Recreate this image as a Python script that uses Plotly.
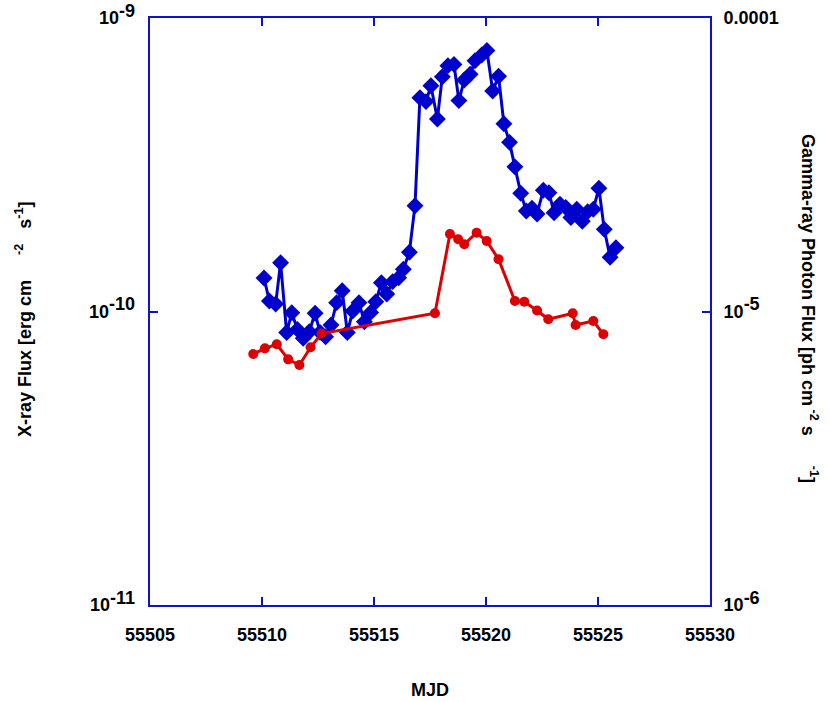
import plotly.graph_objects as go

# X-ray flux (erg cm^-2 s^-1), blue diamonds, left axis
xray_mjd = [55510.09, 55510.33, 55510.61, 55510.83, 55511.10, 55511.33, 55511.58, 55511.84,
            55512.11, 55512.37, 55512.59, 55512.84, 55513.08, 55513.33, 55513.58, 55513.81,
            55514.05, 55514.33, 55514.57, 55514.85, 55515.08, 55515.33, 55515.57, 55515.83,
            55516.10, 55516.31, 55516.58, 55516.83, 55517.05, 55517.32, 55517.54, 55517.83,
            55518.05, 55518.30, 55518.57, 55518.79, 55519.03, 55519.29, 55519.51, 55519.81,
            55520.04, 55520.30, 55520.56, 55520.80, 55521.05, 55521.29, 55521.55, 55521.80,
            55522.05, 55522.28, 55522.56, 55522.81, 55523.04, 55523.30, 55523.56, 55523.79,
            55524.05, 55524.30, 55524.54, 55524.79, 55525.04, 55525.28, 55525.54, 55525.80]
xray_flux = [1.30e-10, 1.086e-10, 1.06e-10, 1.466e-10, 8.48e-11, 9.9e-11, 8.69e-11, 8.1e-11,
             8.53e-11, 9.86e-11, 8.49e-11, 8.2e-11, 8.99e-11, 1.072e-10, 1.177e-10, 8.48e-11,
             1.004e-10, 1.072e-10, 9.23e-11, 9.93e-11, 1.08e-10, 1.253e-10, 1.147e-10, 1.264e-10,
             1.303e-10, 1.393e-10, 1.592e-10, 2.293e-10, 5.35e-10, 5.19e-10, 5.88e-10, 4.53e-10,
             6.31e-10, 6.88e-10, 6.95e-10, 5.23e-10, 6.15e-10, 6.43e-10, 7.15e-10, 7.48e-10,
             7.75e-10, 5.64e-10, 6.33e-10, 4.36e-10, 3.77e-10, 3.11e-10, 2.53e-10, 2.20e-10,
             2.25e-10, 2.15e-10, 2.59e-10, 2.54e-10, 2.17e-10, 2.32e-10, 2.26e-10, 2.09e-10,
             2.23e-10, 2.03e-10, 2.19e-10, 2.23e-10, 2.63e-10, 1.905e-10, 1.53e-10, 1.65e-10]

# Gamma-ray photon flux (ph cm^-2 s^-1), red circles, right axis
gamma_mjd = [55509.61, 55510.13, 55510.66, 55511.17, 55511.67, 55512.17, 55512.66, 55517.72,
             55518.39, 55518.76, 55519.03, 55519.58, 55520.03, 55520.56, 55521.29, 55521.71,
             55522.28, 55522.78, 55523.87, 55524.00, 55524.79, 55525.24]
gamma_flux = [7.16e-6, 7.49e-6, 7.73e-6, 6.87e-6, 6.57e-6, 7.55e-6, 8.41e-6, 9.86e-6,
              1.836e-5, 1.762e-5, 1.694e-5, 1.855e-5, 1.739e-5, 1.507e-5, 1.086e-5, 1.08e-5,
              1.008e-5, 9.41e-6, 9.86e-6, 9.0e-6, 9.28e-6, 8.36e-6]

x_ticks = [55505, 55510, 55515, 55520, 55525, 55530]
left_tickvals = [1e-11, 1e-10, 1e-9]
left_exps = ["-11", "-10", "-9"]
right_tickvals = [1e-6, 1e-5, 1e-4]
right_labels = ["10|-6", "10|-5", "0.0001"]


def pow_label(base, exp):
    return f"{base}<sup><span style='font-size:18px'>{exp}</span></sup>"


left_ticktext = [pow_label("10", e) for e in left_exps]
right_ticktext = [pow_label(*s.split("|")) if "|" in s else s for s in right_labels]

BLUE = "#0000CC"
RED = "#DD0000"
AX = "#1010D0"
FONT = "Liberation Sans, Arial, sans-serif"
tickfont = dict(family=FONT, size=18, color="#000000", weight="bold")
titlefont = dict(family=FONT, size=18, color="#000000", weight="bold")

W, H = 830, 702
ML, R, T, B = 100, 120, 18, 97      # paper margins
PLOT_LEFT = 150                      # pixel where the plot frame starts
paper_w = W - ML - R
ph = H - T - B
x_dom0 = (PLOT_LEFT - ML) / paper_w


def px_x(x):
    return (x - ML) / paper_w


def px_y(y):
    return (H - B - y) / ph


fig = go.Figure()
# transparent copy of the X-ray series so the label-only left axis (y3) is drawn
fig.add_trace(go.Scatter(x=xray_mjd, y=xray_flux, mode="lines", opacity=0,
                         line=dict(width=0), hoverinfo="skip",
                         yaxis="y3", showlegend=False))
fig.add_trace(go.Scatter(x=xray_mjd, y=xray_flux, mode="lines+markers",
                         line=dict(color=BLUE, width=3),
                         marker=dict(symbol="diamond", size=13, color=BLUE),
                         yaxis="y", showlegend=False))
fig.add_trace(go.Scatter(x=gamma_mjd, y=gamma_flux, mode="lines+markers",
                         line=dict(color=RED, width=3),
                         marker=dict(symbol="circle", size=10, color=RED),
                         yaxis="y2", showlegend=False))

common = dict(ticks="inside", ticklen=8, tickcolor=AX, tickwidth=1.5,
              showline=True, linecolor=AX, linewidth=2,
              showgrid=False, zeroline=False, tickfont=tickfont, automargin=False)

fig.update_layout(
    width=W, height=H,
    margin=dict(l=ML, r=R, t=T, b=B),
    paper_bgcolor="white", plot_bgcolor="white",
    xaxis=dict(range=[55505, 55530], domain=[x_dom0, 1], tickvals=x_ticks,
               ticktext=[str(v) for v in x_ticks],
               mirror="ticks", ticklabelstandoff=12, **common),
    yaxis=dict(type="log", range=[-11, -9], tickvals=left_tickvals,
               showticklabels=False, **common),
    yaxis2=dict(type="log", range=[-6, -4], tickvals=right_tickvals, ticktext=right_ticktext,
                overlaying="y", side="right", ticklabelstandoff=8, **common),
    # label-only copy of the left axis, placed a little left of the frame
    yaxis3=dict(type="log", range=[-11, -9], tickvals=left_tickvals, ticktext=left_ticktext,
                overlaying="y", anchor="free", position=px_x(135), side="left",
                showline=False, ticks="", showgrid=False, zeroline=False,
                tickfont=tickfont, automargin=False),
    annotations=[
        dict(text="MJD", x=px_x(430), y=px_y(690), xref="paper", yref="paper",
             xanchor="center", yanchor="middle", showarrow=False,
             font=dict(family=FONT, size=18, color="#000", weight="bold")),
        dict(text="X-ray Flux [erg cm&nbsp;&nbsp;&nbsp;&nbsp;&nbsp;<sup>-2</sup>&nbsp;&nbsp;&nbsp;s<sup>-1</sup>]",
             x=px_x(23), y=px_y(319),
             xref="paper", yref="paper", showarrow=False, textangle=-90,
             xanchor="center", yanchor="middle", font=titlefont),
        dict(text="Gamma-ray Photon Flux [ph cm<sup>&nbsp;-2</sup>&nbsp;s&nbsp;&nbsp;&nbsp;&nbsp;&nbsp;&nbsp;<sup>-1</sup>]",
             x=px_x(810), y=px_y(308),
             xref="paper", yref="paper", showarrow=False, textangle=90,
             xanchor="center", yanchor="middle", font=titlefont),
    ],
)

fig.write_html("out.html", config={"displayModeBar": False},
               post_script="document.body.style.margin='0px';")
